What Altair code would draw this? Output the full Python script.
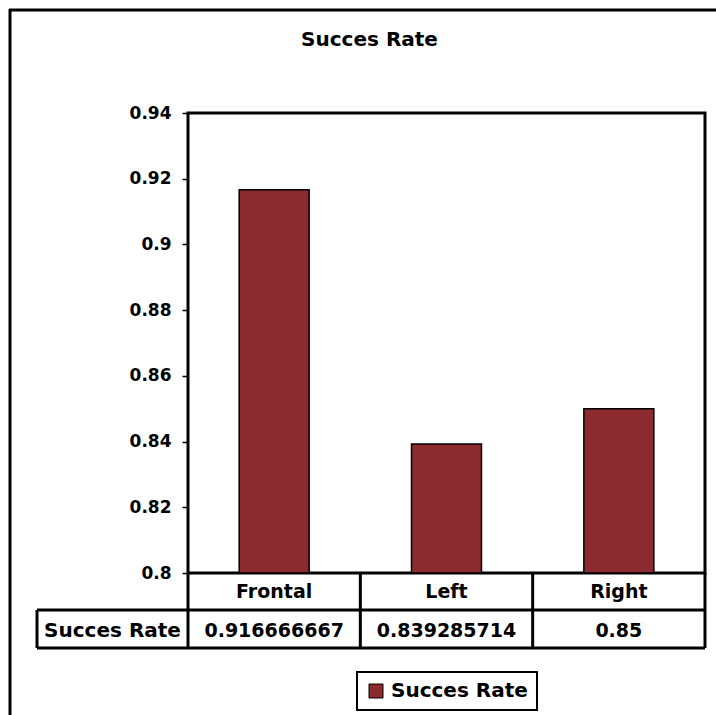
import altair as alt
import pandas as pd

# Chart values
categories = ["Frontal", "Left", "Right"]
success_rate = [0.916666667, 0.839285714, 0.85]
series_name = "Succes Rate"
y_ticks = [0.8, 0.82, 0.84, 0.86, 0.88, 0.9, 0.92, 0.94]

df = pd.DataFrame({
    "category": categories,
    "rate": success_rate,
    "series": [series_name] * len(categories),
})
label_df = pd.DataFrame({"series": [series_name]})

W, H = 517, 460
FONT = "DejaVu Sans"
BAR_COLOR = "#8B2A2F"
LINE = 3
TABLE_MID = 497     # line between header row and value row
TABLE_BOT = 535     # bottom edge of the data table
TABLE_LEFT = -151   # left edge of the row-label column

x_enc = alt.X(
    "category:N",
    sort=categories,
    scale=alt.Scale(paddingInner=0.594, paddingOuter=0.297),
    axis=None,
)

y_scale = alt.Scale(domain=[0.8, 0.94], zero=False, nice=False)

bars = alt.Chart(df).mark_bar(stroke="black", strokeWidth=1.5).encode(
    x=x_enc,
    y=alt.Y(
        "rate:Q",
        scale=y_scale,
        axis=alt.Axis(
            values=y_ticks, labelExpr="format(datum.value, '.2~f')",
            title=None, grid=False, domain=False,
            tickSize=6, tickWidth=1.5, tickColor="black",
            labelFont=FONT, labelFontWeight="bold", labelFontSize=17,
            labelColor="black", labelPadding=11,
        ),
    ),
    y2=alt.datum(0.8),
    color=alt.Color(
        "series:N",
        scale=alt.Scale(range=[BAR_COLOR]),
        legend=alt.Legend(
            orient="none", legendX=169, legendY=559, title=None,
            symbolType="square", symbolSize=196, symbolStrokeColor="black",
            symbolStrokeWidth=1, symbolOpacity=1,
            labelFont=FONT, labelFontWeight="bold", labelFontSize=20,
            labelColor="black", labelOffset=5, padding=9,
            strokeColor="black", fillColor="white",
        ),
    ),
)

text_style = dict(font=FONT, fontWeight="bold", fontSize=19, color="black")

# Data table: category header row and value row
header = alt.Chart(df).mark_text(**text_style).encode(
    x=alt.X("category:N", sort=categories),
    y=alt.value(479),
    text="category:N",
)
values_row = alt.Chart(df).mark_text(**text_style).encode(
    x=alt.X("category:N", sort=categories),
    y=alt.value(518),
    text=alt.Text("rate:Q", format=".9~f"),
)
row_label = alt.Chart(label_df).mark_text(**{**text_style, "fontSize": 20}).encode(
    x=alt.value(TABLE_LEFT / 2),
    y=alt.value(518),
    text="series:N",
)

# Table grid lines
rule_style = dict(color="black", strokeWidth=LINE)
grid_layers = [
    alt.Chart(label_df).mark_rule(**rule_style).encode(
        x=alt.value(TABLE_LEFT), x2=alt.value(W), y=alt.value(TABLE_MID)
    ),
    alt.Chart(label_df).mark_rule(**rule_style).encode(
        x=alt.value(TABLE_LEFT), x2=alt.value(W), y=alt.value(TABLE_BOT)
    ),
    alt.Chart(label_df).mark_rule(**rule_style).encode(
        x=alt.value(TABLE_LEFT), y=alt.value(TABLE_MID), y2=alt.value(TABLE_BOT)
    ),
]
# Column separators, one per category boundary
for k in range(len(categories) + 1):
    grid_layers.append(
        alt.Chart(label_df).mark_rule(**rule_style).encode(
            x=alt.value(W * k / len(categories)), y=alt.value(H), y2=alt.value(TABLE_BOT)
        )
    )

# Outer chart frame (left and top edges)
frame_left = alt.Chart(label_df).mark_rule(**rule_style).encode(
    x=alt.value(-178), y=alt.value(-104), y2=alt.value(610)
)
frame_top = alt.Chart(label_df).mark_rule(**rule_style).encode(
    x=alt.value(-179), x2=alt.value(540), y=alt.value(-103)
)

chart = alt.layer(
    frame_left, frame_top, bars, header, values_row, row_label, *grid_layers
).properties(
    width=W,
    height=H,
    title=alt.TitleParams(
        series_name, font=FONT, fontWeight="bold", fontSize=20, color="black",
        anchor="middle", dx=-77, offset=-42,
    ),
    autosize=alt.AutoSizeParams(type="none"),
    padding={"left": 188, "top": 113, "right": 11, "bottom": 142},
).configure(
    background="white"
).configure_view(
    stroke="black", strokeWidth=LINE
).configure_legend(
    strokeWidth=2
)

chart.save("out.html", embed_options={"renderer": "svg", "actions": False})
